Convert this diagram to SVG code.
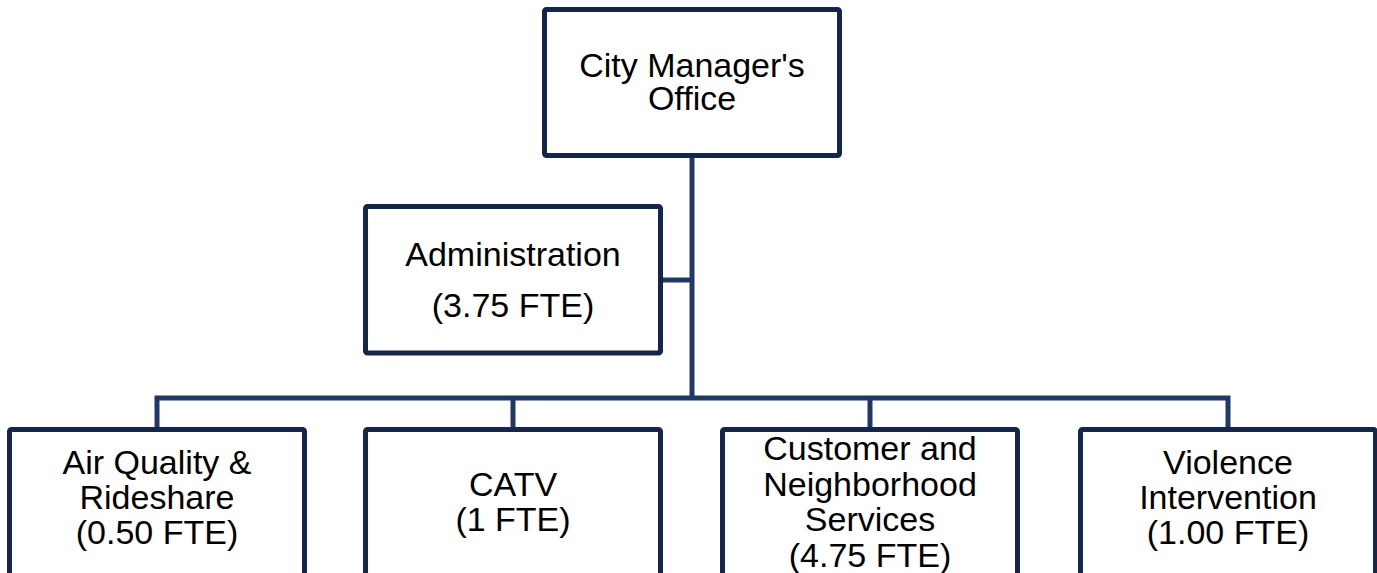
<svg xmlns="http://www.w3.org/2000/svg" width="1377" height="573" viewBox="0 0 1377 573">
  <style>
    .box { fill: #ffffff; stroke: #16254a; stroke-width: 5; }
    .link { fill: none; stroke: #1f3864; stroke-width: 5; }
    .label { font-family: "Liberation Sans", Arial, sans-serif; font-size: 34px; fill: #000000; text-anchor: middle; }
  </style>
  <rect width="1377" height="573" fill="#ffffff"/>

  <!-- connectors -->
  <g id="connectors">
    <path class="link" d="M692 158 V398"/>
    <path class="link" d="M663 280 H692"/>
    <path class="link" d="M157 427 V398 H1228 V427"/>
    <path class="link" d="M513 398 V427"/>
    <path class="link" d="M870 398 V427"/>
  </g>

  <g id="city-manager">
    <rect class="box" x="544.5" y="9.5" width="295" height="146" rx="2"/>
    <text class="label" x="692" y="77">City Manager's</text>
    <text class="label" x="692" y="110">Office</text>
  </g>

  <g id="administration">
    <rect class="box" x="365.5" y="206.5" width="295" height="146.5" rx="2"/>
    <text class="label" x="513" y="266">Administration</text>
    <text class="label" x="513" y="317">(3.75 FTE)</text>
  </g>

  <g id="air-quality">
    <rect class="box" x="9.5" y="429.5" width="295" height="170" rx="2"/>
    <text class="label" x="157" y="474">Air Quality &amp;</text>
    <text class="label" x="157" y="509">Rideshare</text>
    <text class="label" x="157" y="544">(0.50 FTE)</text>
  </g>

  <g id="catv">
    <rect class="box" x="365.5" y="429.5" width="295" height="170" rx="2"/>
    <text class="label" x="513" y="496">CATV</text>
    <text class="label" x="513" y="531">(1 FTE)</text>
  </g>

  <g id="customer-neighborhood">
    <rect class="box" x="722.5" y="429.5" width="295" height="170" rx="2"/>
    <text class="label" x="870" y="460">Customer and</text>
    <text class="label" x="870" y="496">Neighborhood</text>
    <text class="label" x="870" y="531">Services</text>
    <text class="label" x="870" y="567">(4.75 FTE)</text>
  </g>

  <g id="violence-intervention">
    <rect class="box" x="1080.5" y="429.5" width="295" height="170" rx="2"/>
    <text class="label" x="1228" y="474">Violence</text>
    <text class="label" x="1228" y="509">Intervention</text>
    <text class="label" x="1228" y="544">(1.00 FTE)</text>
  </g>
</svg>
